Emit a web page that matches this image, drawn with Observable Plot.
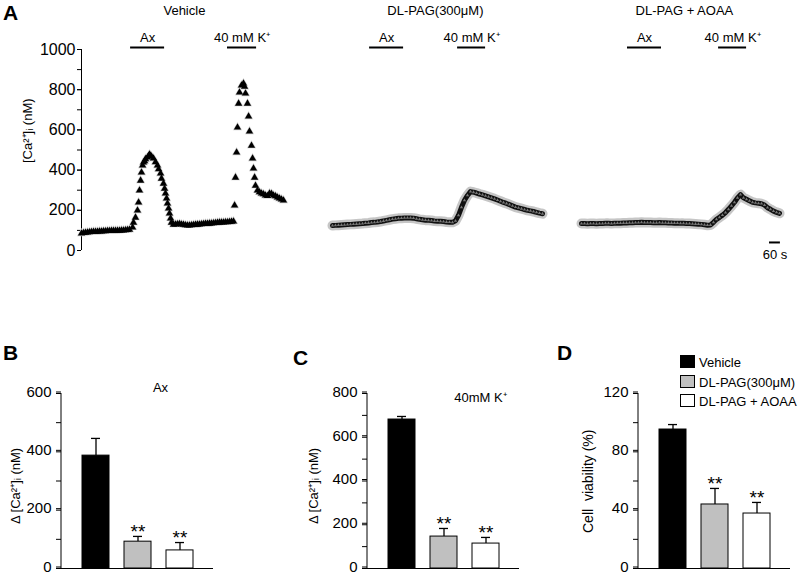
<!DOCTYPE html>
<html><head><meta charset="utf-8">
<script src="https://cdn.jsdelivr.net/npm/d3@7"></script>
<script src="https://cdn.jsdelivr.net/npm/@observablehq/plot@0.6"></script>
<style>
body{margin:0;background:#fff;}
#fig{position:relative;width:800px;height:574px;overflow:hidden;font-family:"Liberation Sans",Arial,Helvetica,sans-serif;color:#000;}
#fig svg{overflow:visible;}
.letter{position:absolute;font-weight:bold;font-size:21px;line-height:1;}
.leg{position:absolute;font-size:13px;line-height:14px;white-space:nowrap;}
.leg span.sw{display:inline-block;width:13px;height:11px;border:1px solid #000;vertical-align:-1px;margin-right:4px;}
</style></head><body><div id="fig"></div><script>
// ---------- data ----------
const groups = ["Vehicle", "DL-PAG(300μM)", "DL-PAG + AOAA"];
const groupFill = ["#000000", "#c0c0c0", "#ffffff"];

// Panel A traces: time (s) and [Ca2+]i (nM)
const vehT = [0,11,22,33,44,55,66,77,88,99,110,121,132,143,154,165,176,187,198,209,220,231,242,253,264,
  281,286,297,308,314,319,325,330,336,341,347,352,363,369,374,380,385,396,407,418,424,435,440,451,457,462,468,473,479,484,490,495,506,
  517,528,539,550,561,572,583,594,605,616,627,638,649,660,671,682,693,704,715,726,737,748,759,770,781,792,803,814,825,836,
  842,847,853,858,864,869,880,891,897,902,913,919,924,935,941,946,952,957,968,979,990,1001,1012,1023,1034,1045,1056,1067,1078,1089,1100,1111];
const vehV = [85,87,89,90,91,92,93,93,94,95,95,96,96,97,97,98,98,98,99,99,100,100,101,102,104,
  115,139,164,199,239,299,348,388,423,438,445,455,463,470,478,472,468,458,440,423,405,383,358,333,308,284,259,234,209,184,160,139,129,
  130,131,132,130,128,126,125,125,126,127,128,129,130,131,132,133,133,134,135,136,137,138,139,140,140,141,141,142,143,145,
  224,363,488,612,731,786,821,831,815,781,731,667,592,522,458,408,363,323,299,290,284,280,274,272,284,282,274,270,264,259,254,249];

const pagT = [0,16.5,33,49.5,66,82.5,99,115.5,132,148.5,165,181.5,198,214.5,231,247.5,264,280.5,297,313.5,330,346.5,363,379.5,396,412.5,429,445.5,462,478.5,495,511.5,528,544.5,561,577.5,594,610.5,627,643.5,660,
  676.5,693,709.5,726,742.5,759,775.5,792,808.5,825,841.5,858,874.5,891,907.5,924,940.5,957,973.5,990,1006.5,1023,1039.5,1056,1072.5,1089,1105.5,1122,1138.5,1155];
const pagV = [124,125,126,127,128,129,130,131,132,133,134,136,137,139,140,142,144,147,150,153,156,158,160,161,162,162,162,161,158,155,153,151,150,149,147,146,145,144,142,141,140,
  148,175,215,250,274,293,290,286,281,277,272,267,262,257,251,245,239,234,228,222,216,212,208,204,200,197,194,190,186,183];

const aoaaT = [0,16.5,33,49.5,66,82.5,99,115.5,132,148.5,165,181.5,198,214.5,231,247.5,264,280.5,297,313.5,330,346.5,363,379.5,396,412.5,429,445.5,462,478.5,495,511.5,528,544.5,561,577.5,594,610.5,627,643.5,660,
  676.5,693,709.5,726,742.5,759,775.5,792,808.5,825,841.5,858,874.5,891,907.5,924,940.5,957,973.5,990,1006.5,1023,1039.5,1056,1072.5,1089];
const aoaaV = [134,134,133,134,134,133,134,134,135,135,134,135,136,136,137,137,138,138,139,139,140,139,139,139,138,138,139,138,138,137,137,136,136,135,135,134,134,133,132,131,130,
  128,126,127,140,155,165,176,189,205,222,240,262,278,262,255,247,240,237,235,233,226,213,205,196,190,185];

// stimulus windows (s) per trace
const axWindows = [[270,457],[204,391],[253,440]];
const kWindows  = [[803,963],[688,842],[754,908]];
const stimLabels = ["Ax", "40 mM K⁺"];
const scaleBarSec = 60;

const yTicksA = [0,200,400,600,800,1000];
const yMinorA = [0,100,200,300,400,500,600,700,800,900,1000];

// Panels B–D: mean and SEM
const axMean = [387, 92, 62];     const axSem = [59, 18, 27];
const kMean  = [681, 146, 114];   const kSem  = [14, 37, 28];
const viabMean = [95.3, 43.9, 37.7]; const viabSem = [3.4, 11.0, 7.6];
const sigLabel = ["", "**", "**"];

// ---------- drawing ----------
const fig = document.getElementById("fig");
const FONT = '"Liberation Sans", Arial, Helvetica, sans-serif';
const fmt = d3.format("d");
function place(el, left, top) { el.style.position = "absolute"; el.style.left = left + "px"; el.style.top = top + "px"; fig.appendChild(el); }

function tracePlot(i, T, V, o) {
  const data = T.map((t, j) => ({t, v: V[j]}));
  const marks = [];
  if (o.axis) {
    marks.push(Plot.axisY({ticks: yMinorA, tickSize: 4, tickFormat: () => "", label: null}));
    marks.push(Plot.axisY({ticks: yTicksA, tickSize: 4, tickPadding: 2, tickFormat: fmt, fontSize: 16, label: null}));
    marks.push(Plot.ruleX([0], {y1: 0, y2: 1000, stroke: "#000"}));
    marks.push(Plot.text(["[Ca²⁺]ᵢ (nM)"], {frameAnchor: "middle", textAnchor: "start", rotate: -90, dx: -160, dy: 13, fontSize: 13}));
  }
  if (o.filled) {
    marks.push(Plot.dot(data, {x: "t", y: "v", symbol: "triangle", r: 3.5, fill: "#d0d0d0"}));
    marks.push(Plot.dot(data, {x: "t", y: "v", symbol: "triangle", r: 2.7, fill: "#000"}));
  } else {
    marks.push(Plot.line(data, {x: "t", y: "v", stroke: "#c6c6c6", strokeWidth: 10}));
    marks.push(Plot.line(data, {x: "t", y: "v", stroke: "#111", strokeWidth: 5}));
    marks.push(Plot.dot(data, {x: "t", y: "v", symbol: "triangle", r: 1.2, fill: "#777"}));
  }
  const wins = [axWindows[i], kWindows[i]];
  marks.push(Plot.ruleY(wins, {x1: d => d[0], x2: d => d[1], y: 1010, stroke: "#000", strokeWidth: 2}));
  marks.push(Plot.text(wins, {x: d => (d[0] + d[1]) / 2, y: 1010, dy: -10, text: (d, j) => stimLabels[j], fontSize: 13}));
  marks.push(Plot.text([groups[i]], {x: 566, y: 1190, text: d => d, fontSize: 13}));
  if (o.scaleBar) {
    const sb = [[1034, 1034 + scaleBarSec]];
    marks.push(Plot.ruleY(sb, {x1: d => d[0], x2: d => d[1], y: 40, stroke: "#000", strokeWidth: 2}));
    marks.push(Plot.text(sb, {x: d => (d[0] + d[1]) / 2, y: 40, dy: 12, text: () => scaleBarSec + " s", fontSize: 13}));
  }
  const svg = Plot.plot({
    width: o.width, height: 270, marginLeft: o.ml, marginRight: 7, marginTop: 49, marginBottom: 20,
    x: {domain: [0, 1166], axis: null},
    y: {domain: [0, 1000], axis: null},
    style: {fontFamily: FONT, fontSize: "13px", background: "transparent", color: "#000"},
    marks
  });
  place(svg, o.left, 0);
}

tracePlot(0, vehT, vehV, {left: 0, width: 300, ml: 81, axis: true, filled: true});
tracePlot(1, pagT, pagV, {left: 317, width: 234, ml: 15});
tracePlot(2, aoaaT, aoaaV, {left: 566, width: 234, ml: 15, scaleBar: true});

function barPlot(mean, sem, o) {
  const rows = groups.map((g, i) => ({g, m: mean[i], e: sem[i], fill: groupFill[i], sig: sigLabel[i]}));
  const marks = [
    Plot.axisY({ticks: o.minor, tickSize: 5, tickFormat: () => "", label: null}),
    Plot.axisY({ticks: o.ticks, tickSize: 5, tickPadding: 5, tickFormat: fmt, fontSize: 15, dy: -1.5, label: null}),
    Plot.ruleX(rows, {x: "g", y1: "m", y2: d => d.m + d.e, stroke: "#000", strokeWidth: 1.3}),
    Plot.tickY(rows, {x: "g", y: d => d.m + d.e, insetLeft: 9, insetRight: 9, stroke: "#000", strokeWidth: 1.3}),
    Plot.barY(rows, {x: "g", y: "m", fill: "fill", stroke: "#000", strokeWidth: 1}),
    Plot.ruleY([0], {stroke: "#000"}),
    Plot.text(rows.filter(d => d.sig), {x: "g", y: d => d.m + d.e, dy: -5, text: "sig", fontSize: 19}),
    Plot.text([o.ylabel], {frameAnchor: "middle", textAnchor: "start", rotate: -90, dx: o.ldx, dy: o.ldy, fontSize: o.lfs || 13})
  ];
  if (o.title) marks.push(Plot.text([o.title], {frameAnchor: "top", dx: o.tdx, dy: o.tdy, fontSize: 13}));
  const svg = Plot.plot({
    width: o.width, height: 244, marginLeft: o.ml, marginRight: o.mr, marginTop: 63, marginBottom: 6,
    x: {domain: groups, paddingInner: 0.365, paddingOuter: 0.47, axis: null},
    y: {domain: [0, o.max], axis: null},
    color: {type: "identity"},
    style: {fontFamily: FONT, fontSize: "13px", background: "transparent", color: "#000"},
    marks
  });
  // vertical axis line along the y axis
  const ys = svg.scale("y");
  d3.select(svg).append("line")
    .attr("x1", o.ml).attr("x2", o.ml)
    .attr("y1", ys.apply(o.max)).attr("y2", ys.apply(0))
    .attr("stroke", "#000");
  place(svg, o.left, 330);
}

barPlot(axMean, axSem, {left: 0, width: 265, ml: 61, mr: 52, max: 600, ticks: [0,200,400,600], minor: [0,100,200,300,400,500,600],
  ylabel: "Δ [Ca²⁺]ᵢ (nM)", ldx: -122, ldy: 43, title: "Ax", tdx: 23, tdy: -11});
barPlot(kMean, kSem, {left: 270, width: 259, ml: 97, mr: 10, max: 800, ticks: [0,200,400,600,800], minor: [0,100,200,300,400,500,600,700,800],
  ylabel: "Δ [Ca²⁺]ᵢ (nM)", ldx: -130, ldy: 43, title: "40mM K⁺", tdx: 37, tdy: -1});
barPlot(viabMean, viabSem, {left: 530, width: 270, ml: 108, mr: 10, max: 120, ticks: [0,40,80,120], minor: [0,20,40,60,80,100,120],
  ylabel: "Cell  viability (%)", ldx: -126, ldy: 52, lfs: 14});

// panel letters
[["A", 3, 2], ["B", 3, 342], ["C", 293, 347], ["D", 557, 342]].forEach(([t, x, y]) => {
  const d = document.createElement("div"); d.className = "letter"; d.textContent = t; place(d, x, y);
});

// legend (panel D)
groups.forEach((g, i) => {
  const d = document.createElement("div"); d.className = "leg";
  const sw = document.createElement("span"); sw.className = "sw"; sw.style.background = groupFill[i];
  d.appendChild(sw); d.appendChild(document.createTextNode(g));
  place(d, 680, 355 + i * 19.5);
});
</script></body></html>
